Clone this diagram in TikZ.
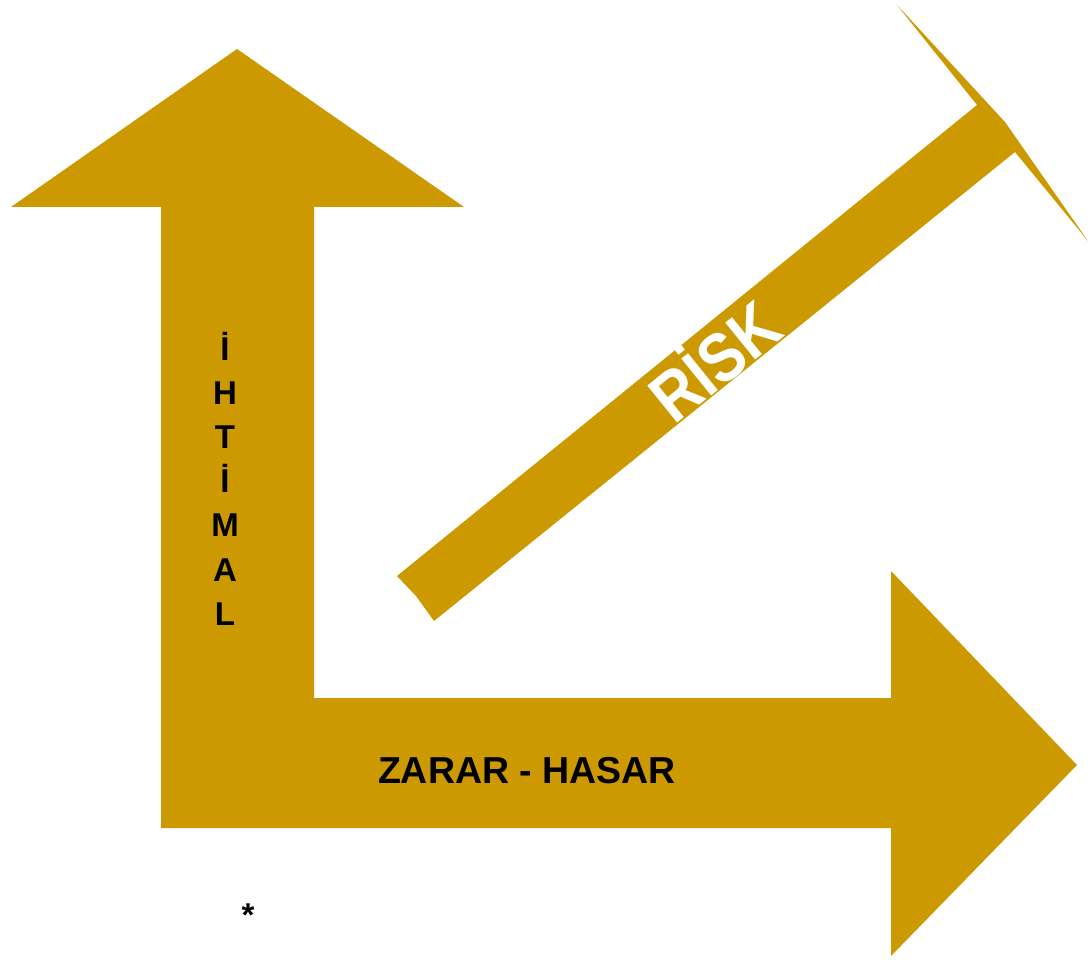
\documentclass[tikz,border=0pt]{standalone}
\usepackage{fontspec}
\setmainfont{Liberation Sans}
\usepackage{tikz}
\usetikzlibrary{positioning}
\definecolor{gold}{RGB}{204,153,0}

\begin{document}
\begin{tikzpicture}[
x=1pt, y=-1pt,
arrowfill/.style={fill=gold, draw=none},
caption/.style={
inner sep=0pt,
font=\fontsize{37.5}{40}\selectfont\bfseries
},
letter/.style={
inner sep=0pt,
anchor=base,
font=\fontsize{33}{35}\selectfont\bfseries
}
]
\useasboundingbox (0,0) rectangle (1088,960);

% up and right arrows
\fill[arrowfill] (237,49) -- (464,207) -- (314,207) -- (314,698) -- (891,698)
  -- (891,571) -- (1077,765) -- (891,956) -- (891,828) -- (161,828)
  -- (161,207) -- (11,207) -- cycle;

% diagonal arrow
\fill[arrowfill] (397,576) -- (977,105) -- (897,5) -- (1005,122) -- (1088,241)
  -- (1015,152) -- (434,621) -- (416,596) -- cycle;

% texts
\foreach \c [count=\i] in {İ,H,T,İ,M,A,L}
  \node[letter] (ihtimal\i) at (225,{360+44.2*(\i-1)}) {\c};

\node[caption, anchor=base] (zarar) at (527,783) {ZARAR - HASAR};

\node[caption, text=white, rotate=39, yscale=1.15,
  font=\fontsize{60}{62}\selectfont\bfseries]
  (risk) at (712,358) {RİSK};

\node[letter] (star) at (248,926) {*};

\end{tikzpicture}
\end{document}
